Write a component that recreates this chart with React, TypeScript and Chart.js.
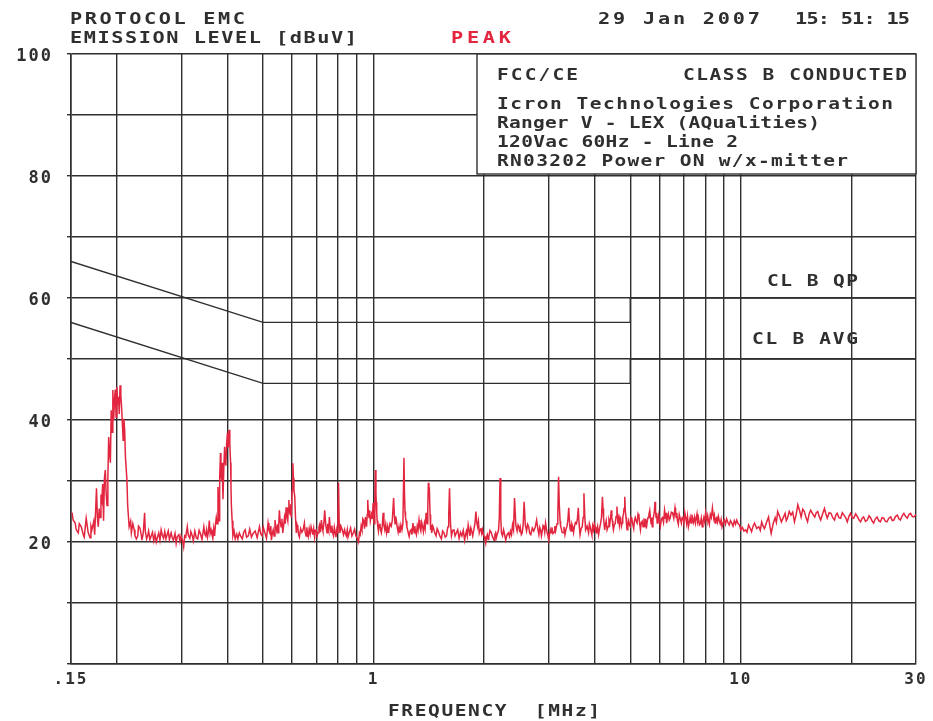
import React, { useEffect, useRef } from "react";
import { Chart, registerables } from "chart.js";

Chart.register(...registerables);

// ---------- DATA ----------
const xGridValues = [0.15, 0.2, 0.3, 0.4, 0.5, 0.6, 0.7, 0.8, 0.9, 1, 2, 3, 4, 5, 6, 7, 8, 9, 10, 20, 30];
const xLabelValues = [0.15, 1, 10, 30];
const xLabelTexts = [".15", "1", "10", "30"];
const yLabelValues = [20, 40, 60, 80, 100];

const qpLimitFreq = [0.15, 0.5, 5, 5, 30];
const qpLimitLevel = [66, 56, 56, 60, 60];
const avgLimitFreq = [0.15, 0.5, 5, 5, 30];
const avgLimitLevel = [56, 46, 46, 50, 50];

// peak trace [MHz, dBuV]
const traceA = [
  [0.151, 24.8], [0.152, 23.6], [0.154, 23.1], [0.155, 22.0], [0.157, 21.5], [0.158, 23.0], [0.16, 22.5], [0.162, 21.2],
  [0.163, 20.8], [0.165, 23.9], [0.167, 21.6], [0.169, 20.7], [0.17, 22.6], [0.171, 22.0], [0.173, 23.4], [0.174, 21.2],
  [0.176, 28.8], [0.177, 24.0], [0.178, 22.5], [0.179, 25.5], [0.18, 24.0], [0.181, 27.8], [0.182, 26.9], [0.183, 29.5],
  [0.184, 23.5], [0.185, 30.5], [0.186, 31.8], [0.187, 28.0], [0.188, 26.0], [0.189, 30.5], [0.19, 37.2], [0.191, 34.5],
  [0.192, 33.0], [0.193, 41.6], [0.194, 38.0], [0.195, 44.9], [0.196, 40.0], [0.197, 43.3], [0.198, 45.0], [0.199, 40.5],
  [0.2, 45.4], [0.201, 42.5], [0.202, 43.8], [0.203, 41.0], [0.204, 45.7], [0.205, 44.0], [0.206, 42.1], [0.207, 39.5],
  [0.208, 36.7], [0.209, 40.2], [0.21, 38.4], [0.211, 34.0], [0.213, 30.2], [0.214, 26.0], [0.216, 22.5], [0.218, 23.4],
  [0.219, 21.5], [0.221, 23.0], [0.223, 22.0], [0.224, 21.0], [0.226, 20.5], [0.228, 21.0], [0.229, 22.6], [0.231, 22.3],
  [0.233, 21.2], [0.234, 20.3], [0.236, 21.5], [0.238, 24.8], [0.239, 21.8], [0.241, 20.5], [0.243, 21.2], [0.244, 21.8],
  [0.246, 20.4], [0.248, 21.0], [0.25, 21.6], [0.252, 20.2], [0.254, 21.3], [0.256, 20.0], [0.258, 20.8], [0.26, 21.5],
  [0.262, 20.3], [0.264, 22.0], [0.266, 21.1], [0.268, 20.6], [0.27, 21.7], [0.272, 20.5], [0.274, 21.2], [0.276, 21.8],
  [0.278, 20.4], [0.281, 21.5], [0.283, 20.7], [0.285, 20.3], [0.288, 21.4], [0.29, 19.8], [0.292, 20.9], [0.295, 21.2],
  [0.297, 20.1], [0.299, 21.0], [0.302, 20.2], [0.304, 19.2], [0.306, 21.0], [0.308, 20.8], [0.311, 22.5], [0.313, 21.1],
  [0.316, 20.6], [0.318, 21.7], [0.321, 21.0], [0.323, 20.2], [0.326, 21.8], [0.329, 20.7], [0.332, 20.5], [0.335, 21.9],
  [0.338, 21.3], [0.341, 20.4], [0.345, 22.5], [0.347, 21.3], [0.349, 21.0], [0.351, 22.0], [0.353, 20.8], [0.355, 21.6],
  [0.357, 23.5], [0.359, 21.4], [0.361, 22.0], [0.363, 21.2], [0.365, 20.6], [0.367, 22.2], [0.369, 21.0], [0.371, 22.8],
  [0.373, 24.0], [0.375, 23.0], [0.377, 29.0], [0.378, 26.0], [0.38, 23.5], [0.381, 30.5], [0.383, 34.6], [0.384, 31.0],
  [0.386, 30.0], [0.387, 33.0], [0.389, 27.0], [0.391, 32.0], [0.393, 35.6], [0.394, 33.5], [0.396, 32.5], [0.398, 36.0],
  [0.4, 37.9], [0.402, 35.5], [0.404, 38.4], [0.406, 36.0], [0.408, 33.0], [0.409, 29.0], [0.41, 26.0], [0.412, 23.5],
  [0.414, 21.0], [0.417, 21.8], [0.42, 20.5], [0.424, 21.3], [0.427, 20.5],
];
const traceB = [
  [0.431, 21.5], [0.435, 20.9], [0.439, 20.5], [0.443, 21.6], [0.447, 22.0], [0.451, 20.8], [0.456, 21.0], [0.46, 22.1],
  [0.465, 20.8], [0.47, 21.4], [0.476, 21.8], [0.482, 20.7], [0.489, 22.5], [0.493, 21.3], [0.497, 21.0], [0.501, 22.4],
  [0.506, 21.5], [0.511, 20.6], [0.516, 23.1], [0.519, 21.9], [0.522, 21.5], [0.525, 22.6], [0.527, 20.3], [0.53, 21.4],
  [0.533, 22.0], [0.536, 21.0], [0.539, 23.6], [0.542, 22.4], [0.545, 21.8], [0.548, 22.9], [0.55, 21.5], [0.552, 23.0],
  [0.554, 25.2], [0.557, 23.3], [0.56, 22.5], [0.563, 23.8], [0.566, 21.5], [0.569, 22.7], [0.572, 24.0], [0.575, 23.0],
  [0.578, 25.7], [0.581, 24.2], [0.584, 23.5], [0.586, 25.5], [0.588, 26.9], [0.59, 25.0], [0.593, 24.5], [0.595, 26.2],
  [0.597, 24.0], [0.6, 28.5], [0.603, 32.9], [0.605, 30.5], [0.607, 28.5], [0.61, 27.5], [0.613, 24.0], [0.616, 21.5],
  [0.619, 22.8], [0.622, 22.3], [0.625, 21.2], [0.628, 20.8], [0.633, 22.2], [0.638, 21.6], [0.643, 22.0], [0.648, 23.1],
  [0.651, 21.7], [0.655, 21.0], [0.658, 22.4], [0.661, 21.5], [0.664, 20.9], [0.668, 22.2], [0.672, 21.3], [0.676, 22.5],
  [0.68, 21.8], [0.683, 21.2], [0.687, 22.2], [0.691, 20.8], [0.694, 21.9], [0.698, 22.0], [0.702, 21.0], [0.706, 21.5],
  [0.71, 22.4], [0.713, 22.8], [0.717, 21.6], [0.721, 23.6], [0.725, 22.3], [0.728, 21.8], [0.732, 23.0], [0.736, 25.2],
  [0.741, 22.8], [0.747, 21.5], [0.75, 23.0], [0.752, 22.5], [0.755, 22.0], [0.758, 24.1], [0.762, 22.4], [0.766, 21.6],
  [0.77, 22.7], [0.774, 21.5], [0.778, 21.0], [0.782, 22.4], [0.786, 21.6], [0.79, 20.8], [0.794, 22.0], [0.797, 21.5],
  [0.8, 24.0], [0.803, 29.7], [0.806, 23.0], [0.81, 21.5], [0.816, 22.5], [0.822, 22.0], [0.828, 21.2], [0.834, 22.0],
  [0.838, 21.4], [0.843, 21.0], [0.848, 22.0], [0.852, 20.8], [0.859, 21.6], [0.866, 22.3], [0.873, 21.0], [0.881, 21.5],
  [0.888, 22.1], [0.895, 21.0], [0.903, 20.6], [0.91, 20.0], [0.915, 21.5], [0.92, 21.2], [0.925, 22.6], [0.93, 22.0],
  [0.935, 23.8], [0.94, 23.5], [0.945, 22.2], [0.95, 24.1], [0.954, 23.0], [0.957, 22.5], [0.961, 24.5], [0.964, 26.9],
  [0.968, 24.8], [0.972, 24.0], [0.976, 25.2], [0.98, 23.5], [0.985, 24.3], [0.989, 25.0], [0.993, 23.8], [0.997, 26.4],
  [1.0, 24.5], [1.003, 23.0], [1.008, 27.0], [1.012, 31.8], [1.015, 28.0], [1.017, 26.5], [1.02, 24.8], [1.023, 23.5],
  [1.027, 22.5], [1.031, 21.8], [1.035, 22.8], [1.04, 23.0], [1.045, 22.0], [1.05, 21.5], [1.056, 22.6], [1.062, 24.8],
  [1.067, 22.8], [1.073, 22.0], [1.079, 22.9], [1.085, 21.5], [1.092, 22.5], [1.096, 21.6], [1.1, 21.8], [1.108, 23.0],
  [1.117, 22.6], [1.125, 23.6], [1.134, 27.2], [1.139, 24.5], [1.144, 23.0], [1.149, 24.2], [1.154, 23.5], [1.16, 22.4],
  [1.167, 21.6], [1.173, 22.5], [1.18, 21.5], [1.187, 22.8], [1.195, 22.0], [1.202, 23.0], [1.21, 33.8], [1.214, 28.0],
  [1.218, 25.0], [1.222, 24.0], [1.226, 23.5], [1.232, 22.5], [1.238, 22.0], [1.244, 21.4],
];
const traceC = [
  [1.25, 20.9], [1.257, 21.8], [1.265, 22.0], [1.272, 21.2], [1.28, 23.1], [1.285, 22.2], [1.29, 21.5], [1.295, 22.6],
  [1.3, 21.8], [1.308, 21.2], [1.315, 22.6], [1.322, 21.9], [1.33, 23.6], [1.337, 22.4], [1.345, 21.8], [1.352, 23.2],
  [1.36, 22.5], [1.367, 21.7], [1.375, 23.0], [1.382, 22.2], [1.39, 24.8], [1.395, 23.6], [1.4, 23.0], [1.405, 25.5],
  [1.41, 29.7], [1.415, 27.5], [1.42, 28.0], [1.425, 24.5], [1.43, 22.0], [1.435, 22.8], [1.44, 21.5], [1.45, 22.6],
  [1.46, 22.0], [1.47, 21.4], [1.48, 21.0], [1.49, 22.2], [1.5, 21.8], [1.515, 21.0], [1.53, 20.5], [1.542, 21.8],
  [1.555, 21.5], [1.567, 20.8], [1.58, 21.0], [1.588, 22.0], [1.595, 22.5], [1.602, 24.5], [1.61, 28.8], [1.62, 23.0],
  [1.63, 21.0], [1.642, 21.9], [1.655, 22.0], [1.667, 21.0], [1.68, 21.5], [1.695, 22.0], [1.71, 20.6], [1.725, 21.6],
  [1.74, 21.0], [1.755, 21.9], [1.77, 20.3], [1.78, 21.2], [1.79, 21.8], [1.8, 21.0], [1.81, 22.8], [1.82, 22.0],
  [1.83, 21.0], [1.84, 22.3], [1.85, 21.8], [1.862, 21.0], [1.875, 22.0], [1.888, 23.0], [1.9, 25.0], [1.91, 23.2],
  [1.92, 22.5], [1.93, 23.4], [1.94, 21.5], [1.95, 22.0], [1.96, 22.3], [1.97, 21.4], [1.98, 22.0], [1.99, 21.2],
  [2.0, 21.0], [2.01, 20.4], [2.02, 19.8], [2.03, 20.8], [2.04, 21.2], [2.05, 20.4], [2.06, 20.9], [2.075, 21.9],
  [2.09, 21.6], [2.11, 20.8], [2.13, 20.3], [2.14, 21.2], [2.15, 21.5], [2.16, 20.7], [2.17, 21.2], [2.19, 22.0],
  [2.2, 24.0], [2.21, 30.5], [2.22, 24.0], [2.23, 21.5], [2.245, 21.0], [2.26, 22.0], [2.275, 21.2], [2.29, 20.3],
  [2.31, 21.2], [2.33, 21.5], [2.345, 20.9], [2.36, 21.8], [2.375, 21.2], [2.39, 22.8], [2.405, 22.0], [2.42, 27.2],
  [2.44, 22.8], [2.46, 21.8], [2.475, 22.8], [2.49, 22.5], [2.5, 21.6], [2.51, 22.3], [2.525, 21.2], [2.54, 21.5],
  [2.555, 22.8], [2.57, 26.6], [2.59, 22.8], [2.61, 21.8], [2.627, 22.9], [2.645, 22.5], [2.662, 21.4], [2.68, 21.2],
  [2.705, 22.3], [2.73, 21.8], [2.755, 22.4], [2.78, 23.6], [2.8, 22.2], [2.82, 21.2], [2.835, 22.4], [2.85, 22.0],
  [2.865, 21.0], [2.88, 21.8], [2.895, 22.7], [2.91, 22.5], [2.925, 21.6], [2.94, 23.1], [2.955, 22.2], [2.97, 21.5],
  [2.985, 21.0], [3.0, 20.3], [3.015, 21.3], [3.03, 22.0], [3.045, 21.5], [3.06, 22.4], [3.08, 21.4], [3.1, 21.6],
  [3.115, 22.6], [3.13, 21.8], [3.145, 22.4], [3.16, 23.0], [3.175, 24.5], [3.19, 30.7], [3.205, 26.0], [3.22, 23.5],
  [3.23, 22.6], [3.24, 22.4], [3.26, 21.6], [3.28, 21.5], [3.3, 22.5], [3.32, 21.2], [3.34, 22.0], [3.36, 22.5],
  [3.38, 23.4], [3.4, 25.6], [3.415, 23.5], [3.43, 22.0], [3.44, 22.9], [3.45, 21.8], [3.47, 22.9], [3.49, 22.4],
  [3.505, 21.6], [3.52, 22.4], [3.545, 23.2], [3.57, 23.0], [3.59, 23.8], [3.61, 25.6], [3.63, 22.8], [3.65, 21.2],
  [3.675, 22.2], [3.7, 22.5], [3.72, 24.0], [3.74, 28.0], [3.76, 24.2], [3.78, 22.0],
];
const traceD = [
  [3.815, 22.6], [3.85, 21.5], [3.87, 23.0], [3.89, 22.5], [3.91, 21.8], [3.93, 21.2], [3.95, 22.6], [3.97, 22.0],
  [3.99, 23.0], [4.01, 22.5], [4.03, 21.6], [4.05, 21.5], [4.075, 22.5], [4.1, 21.2], [4.125, 22.2], [4.15, 23.0],
  [4.175, 24.0], [4.2, 27.4], [4.215, 25.5], [4.23, 24.0], [4.245, 22.8], [4.26, 22.0], [4.28, 22.9], [4.3, 23.5],
  [4.325, 22.0], [4.35, 22.5], [4.375, 23.6], [4.4, 23.0], [4.42, 24.0], [4.44, 25.2], [4.455, 24.0], [4.47, 23.5],
  [4.485, 22.6], [4.5, 22.0], [4.525, 22.8], [4.55, 23.0], [4.575, 24.2], [4.6, 25.8], [4.615, 24.2], [4.63, 23.0],
  [4.65, 23.8], [4.67, 22.8], [4.69, 24.0], [4.71, 23.6], [4.73, 22.6], [4.75, 23.1], [4.77, 24.0], [4.79, 24.5],
  [4.81, 25.5], [4.83, 27.4], [4.85, 25.0], [4.87, 24.0], [4.885, 22.9], [4.9, 22.0], [4.925, 23.0], [4.95, 23.5],
  [4.975, 22.7], [5.0, 22.5], [5.025, 24.0], [5.05, 23.8], [5.08, 22.9], [5.11, 22.2], [5.135, 23.6], [5.16, 24.0],
  [5.19, 23.4], [5.22, 23.1], [5.25, 24.6], [5.28, 24.2], [5.305, 23.0], [5.33, 22.0], [5.36, 23.2], [5.39, 23.4],
  [5.42, 22.5], [5.45, 23.9], [5.47, 23.0], [5.49, 22.6], [5.51, 23.8], [5.53, 22.2], [5.56, 23.3], [5.59, 24.0],
  [5.62, 24.5], [5.65, 25.2], [5.675, 24.0], [5.7, 23.0], [5.72, 24.0], [5.74, 22.5], [5.765, 23.6], [5.79, 24.3],
  [5.815, 25.0], [5.84, 26.6], [5.86, 25.0], [5.88, 24.0], [5.9, 24.8], [5.92, 23.1], [5.95, 23.8], [5.98, 24.5],
  [6.01, 23.4], [6.04, 22.6], [6.08, 23.8], [6.12, 24.0], [6.16, 23.2], [6.2, 25.2], [6.22, 24.6], [6.24, 23.8],
  [6.26, 24.8], [6.28, 23.1], [6.315, 24.0], [6.35, 24.6], [6.385, 23.6], [6.42, 23.9], [6.47, 24.9], [6.52, 24.8],
  [6.57, 23.9], [6.62, 25.6], [6.645, 24.8], [6.67, 24.0], [6.695, 24.8], [6.72, 23.6], [6.76, 22.9], [6.8, 24.5],
  [6.845, 23.8], [6.89, 23.1], [6.925, 24.0], [6.96, 24.2], [7.0, 23.2], [7.04, 24.8], [7.08, 24.0], [7.12, 23.0],
  [7.16, 24.2], [7.2, 22.5], [7.24, 23.2], [7.28, 24.0], [7.32, 23.1], [7.36, 24.5], [7.4, 23.8], [7.44, 23.2],
  [7.485, 24.1], [7.53, 23.1], [7.565, 23.9], [7.6, 24.6], [7.635, 23.4], [7.67, 23.9], [7.715, 22.8], [7.76, 23.0],
  [7.805, 23.9], [7.85, 22.5], [7.89, 23.4], [7.93, 24.0], [7.975, 23.3], [8.02, 24.8], [8.055, 24.0], [8.09, 23.5],
  [8.125, 24.3], [8.16, 23.6], [8.21, 22.9], [8.26, 24.5], [8.315, 24.0], [8.37, 25.6], [8.405, 24.6], [8.44, 24.0],
  [8.475, 24.4], [8.51, 23.1], [8.555, 23.8], [8.6, 24.0], [8.645, 23.3], [8.69, 24.2], [8.74, 23.5], [8.79, 23.0],
  [8.84, 23.7], [8.89, 22.5], [8.955, 23.2], [9.02, 23.6], [9.085, 22.9], [9.15, 23.8], [9.225, 23.2], [9.3, 22.8],
  [9.375, 23.5], [9.45, 23.1], [9.525, 22.6], [9.6, 23.5], [9.675, 22.9], [9.75, 23.6], [9.835, 23.0], [9.92, 22.8],
  [10.0, 22.0], [10.1, 22.4], [10.2, 21.8],
];
const traceE = [
  [10.3, 22.0], [10.4, 21.6], [10.5, 22.8], [10.6, 22.3], [10.7, 21.7], [10.8, 22.6], [10.9, 23.1], [11.05, 22.2],
  [11.2, 22.5], [11.3, 21.9], [11.4, 23.3], [11.5, 22.6], [11.6, 22.2], [11.75, 23.2], [11.9, 24.1], [12.0, 22.6],
  [12.1, 21.4], [12.25, 23.0], [12.4, 24.0], [12.5, 23.2], [12.6, 25.0], [12.75, 24.2], [12.9, 23.3], [13.05, 24.0],
  [13.2, 24.7], [13.3, 23.5], [13.4, 23.9], [13.55, 25.0], [13.7, 24.4], [13.85, 24.9], [14.0, 23.3], [14.15, 24.5],
  [14.3, 26.1], [14.45, 25.2], [14.6, 24.1], [14.75, 25.4], [14.9, 25.0], [15.05, 24.0], [15.2, 23.3], [15.35, 24.6],
  [15.5, 25.2], [15.7, 24.6], [15.9, 24.1], [16.05, 24.8], [16.2, 25.0], [16.35, 24.2], [16.5, 23.6], [16.7, 24.6],
  [16.9, 25.5], [17.05, 24.6], [17.2, 23.9], [17.4, 24.8], [17.6, 24.7], [17.8, 24.0], [18.0, 23.6], [18.15, 24.4],
  [18.3, 24.7], [18.5, 24.0], [18.7, 23.9], [18.9, 24.8], [19.1, 24.4], [19.3, 24.0], [19.5, 23.3], [19.7, 24.2],
  [19.9, 24.7], [20.1, 24.0], [20.3, 23.9], [20.55, 24.6], [20.8, 24.1], [21.0, 23.6], [21.2, 23.3], [21.4, 23.9],
  [21.6, 24.1], [21.85, 23.4], [22.1, 23.6], [22.35, 24.3], [22.6, 23.9], [22.8, 23.4], [23.0, 23.1], [23.25, 23.8],
  [23.5, 24.1], [23.75, 23.5], [24.0, 23.3], [24.25, 24.0], [24.5, 23.9], [24.75, 23.4], [25.0, 23.3], [25.3, 23.9],
  [25.6, 24.1], [25.85, 23.5], [26.1, 23.6], [26.4, 24.2], [26.7, 24.4], [26.95, 23.8], [27.2, 23.6], [27.5, 24.3],
  [27.8, 24.7], [28.1, 24.2], [28.4, 23.9], [28.7, 24.5], [29.0, 24.7], [29.3, 24.2], [29.6, 24.1], [30.0, 24.5],
];

// ---------- STYLE ----------
const INK = "#2f2f2f";
const RED = "#e3263f";
const MONO = '"DejaVu Sans Mono", monospace';

function fitText(ctx: CanvasRenderingContext2D, s: string, x0: number, x1: number, base: number, size: number, color: string, sx = 1.35) {
  ctx.save();
  ctx.font = `bold ${size}px ${MONO}`;
  (ctx as any).letterSpacing = "0px";
  const w0 = ctx.measureText(s).width;
  const n = s.length;
  const ls = n > 1 ? ((x1 - x0) / sx - w0) / (n - 1) : 0;
  (ctx as any).letterSpacing = `${ls}px`;
  ctx.fillStyle = color;
  ctx.textAlign = "left";
  ctx.textBaseline = "alphabetic";
  ctx.translate(x0, base);
  ctx.scale(sx, 1);
  ctx.fillText(s, 0, 0);
  ctx.restore();
}

const decorPlugin = {
  id: "emcDecor",
  beforeDraw(chart: any) {
    const ctx = chart.ctx;
    ctx.save();
    ctx.fillStyle = "#ffffff";
    ctx.fillRect(0, 0, chart.width, chart.height);
    ctx.restore();
    (ctx as any).letterSpacing = "2px";
  },
  beforeDatasetsDraw(chart: any) {
    const ctx = chart.ctx;
    const { top, right } = chart.chartArea;
    const bx = 477, by = 174;
    ctx.save();
    (ctx as any).letterSpacing = "0px";
    ctx.fillStyle = "#ffffff";
    ctx.fillRect(bx, top, right - bx, by - top);
    ctx.strokeStyle = INK;
    ctx.lineWidth = 1.4;
    ctx.strokeRect(bx, top, right - bx, by - top);
    ctx.restore();
    fitText(ctx, "FCC/CE", 497, 578, 80, 15, INK, 1.3);
    fitText(ctx, "CLASS B CONDUCTED", 683, 907, 80, 15, INK, 1.3);
    fitText(ctx, "Icron Technologies Corporation", 497, 893, 109, 15, INK, 1.3);
    fitText(ctx, "Ranger V - LEX (AQualities)", 497, 820, 128, 15, INK, 1.3);
    fitText(ctx, "120Vac 60Hz - Line 2", 497, 738, 147, 15, INK, 1.3);
    fitText(ctx, "RN03202 Power ON w/x-mitter", 497, 848, 166, 15, INK, 1.3);
  },
  afterDraw(chart: any) {
    const ctx = chart.ctx;
    fitText(ctx, "PROTOCOL EMC", 70, 245, 24, 15, INK);
    fitText(ctx, "EMISSION LEVEL [dBuV]", 70, 357, 43, 15, INK);
    fitText(ctx, "PEAK", 451, 511, 43, 15, RED);
    fitText(ctx, "29 Jan 2007", 598, 760, 24, 15, INK);
    fitText(ctx, "15: 51: 15", 795, 910, 24, 15, INK);
    fitText(ctx, "CL B QP", 767, 858, 286, 15, INK, 1.3);
    fitText(ctx, "CL B AVG", 752, 858, 344, 15, INK, 1.3);
    fitText(ctx, "FREQUENCY  [MHz]", 388, 600, 716, 15, INK, 1.3);
    (ctx as any).letterSpacing = "0px";
  },
};

function toPoints(fs: number[], ls: number[]) {
  return fs.map((f, i) => ({ x: f, y: ls[i] }));
}

export default function App() {
  const ref = useRef<HTMLCanvasElement | null>(null);
  useEffect(() => {
    if (!ref.current) return;
    const trace = [...traceA, ...traceB, ...traceC, ...traceD, ...traceE].map(([x, y]) => ({ x, y }));
    const chart = new Chart(ref.current, {
      type: "scatter",
      data: {
        datasets: [
          {
            label: "PEAK",
            data: trace,
            showLine: true,
            borderColor: RED,
            borderWidth: 1.5,
            pointRadius: 0,
            tension: 0,
          },
          {
            label: "CL B QP",
            data: toPoints(qpLimitFreq, qpLimitLevel),
            showLine: true,
            borderColor: INK,
            borderWidth: 1.4,
            pointRadius: 0,
          },
          {
            label: "CL B AVG",
            data: toPoints(avgLimitFreq, avgLimitLevel),
            showLine: true,
            borderColor: INK,
            borderWidth: 1.4,
            pointRadius: 0,
          },
        ],
      },
      options: {
        animation: false,
        responsive: false,
        devicePixelRatio: 1,
        layout: { padding: { top: 54, right: 17, left: 0, bottom: 0 } },
        plugins: { legend: { display: false }, tooltip: { enabled: false }, title: { display: false } },
        scales: {
          x: {
            type: "logarithmic",
            min: 0.15,
            max: 30,
            afterBuildTicks: (scale: any) => {
              scale.ticks = xGridValues.map((v) => ({ value: v }));
            },
            afterFit: (scale: any) => {
              scale.height = 57;
            },
            ticks: {
              autoSkip: false,
              maxRotation: 0,
              padding: 6,
              color: INK,
              font: { family: MONO, size: 16, weight: "bold" },
              callback: (value: any) => {
                const i = xLabelValues.findIndex((v) => Math.abs(v - Number(value)) < 1e-6);
                return i >= 0 ? xLabelTexts[i] : "";
              },
            },
            grid: { color: INK, lineWidth: 1.4, drawTicks: false },
            border: { color: INK, width: 1.6 },
          },
          y: {
            type: "linear",
            min: 0,
            max: 100,
            afterFit: (scale: any) => {
              scale.width = 71;
            },
            ticks: {
              stepSize: 10,
              padding: 14,
              labelOffset: 3,
              color: INK,
              font: { family: MONO, size: 17, weight: "bold" },
              callback: (value: any) => (yLabelValues.includes(Number(value)) ? String(value) : ""),
            },
            grid: { color: INK, lineWidth: 1.4, tickLength: 4 },
            border: { color: INK, width: 1.6 },
          },
        },
      },
      plugins: [decorPlugin],
    } as any);
    return () => chart.destroy();
  }, []);
  return (
    <div style={{ position: "fixed", left: 0, top: 0, width: 933, height: 721, background: "#fff" }}>
      <canvas ref={ref} width={933} height={721} style={{ display: "block" }} />
    </div>
  );
}
